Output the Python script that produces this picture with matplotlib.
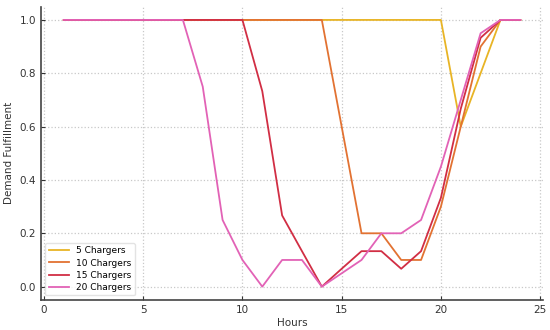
import matplotlib
matplotlib.use("Agg")
import matplotlib.pyplot as plt

hours = list(range(1, 25))

# demand fulfillment per hour for each charger count
c5 = [1.0] * 20 + [0.6, 0.8, 1.0, 1.0]
c10 = [1.0] * 14 + [0.6, 0.2, 0.2, 0.1, 0.1, 0.3, 0.6, 0.9, 1.0, 1.0]
c15 = [1.0] * 10 + [0.733, 0.267, 0.133, 0.0, 0.067, 0.133, 0.133, 0.067,
                    0.133, 0.333, 0.667, 0.933, 1.0, 1.0]
c20 = [1.0] * 7 + [0.75, 0.25, 0.1, 0.0, 0.1, 0.1, 0.0, 0.05, 0.1, 0.2,
                   0.2, 0.25, 0.45, 0.7, 0.95, 1.0, 1.0]

series = [
    ("5 Chargers", c5, "#E8B425"),
    ("10 Chargers", c10, "#E27232"),
    ("15 Chargers", c15, "#D12E44"),
    ("20 Chargers", c20, "#E262B6"),
]

plt.rcParams["font.family"] = "DejaVu Sans"
fig = plt.figure(figsize=(5.5, 3.3), dpi=100)
ax = fig.add_axes([0.0745, 0.091, 0.913, 0.889])

for name, vals, col in series:
    ax.plot(hours, vals, color=col, lw=1.3, label=name)

ax.set_xticks([0, 5, 10, 15, 20, 25])
ax.set_yticks([0.0, 0.2, 0.4, 0.6, 0.8, 1.0])
ax.set_xlabel("Hours", fontsize=7.5, color="#333333", labelpad=2)
ax.set_ylabel("Demand Fulfillment", fontsize=7.5, color="#333333", labelpad=4)
ax.tick_params(direction="in", labelsize=7.5, colors="#333333", length=3)

for s in ["top", "right"]:
    ax.spines[s].set_visible(False)
for s in ["left", "bottom"]:
    ax.spines[s].set_color("#444444")
    ax.spines[s].set_linewidth(1.2)

ax.grid(True, linestyle=":", color="#c8c8c8", lw=0.9)
ax.legend(loc="lower left", fontsize=6.5, frameon=True, edgecolor="#dddddd",
          handlelength=2.2, labelspacing=0.35, borderpad=0.4)

fig.savefig("out.png", dpi=100)
